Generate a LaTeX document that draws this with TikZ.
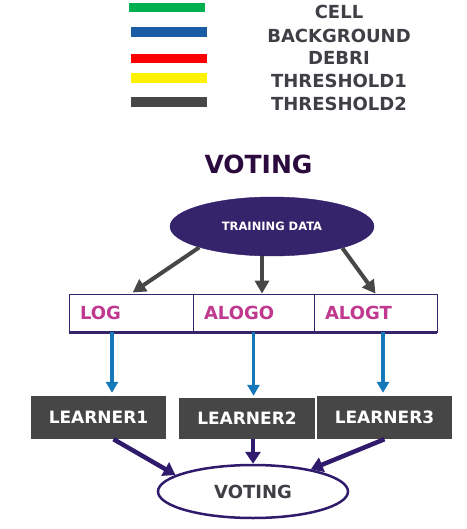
\documentclass[tikz,border=0pt]{standalone}
\usepackage{fontspec}
\setmainfont{DejaVu Sans}
\usetikzlibrary{arrows.meta, positioning, shapes.geometric}
\definecolor{txtgray}{HTML}{3F3F46}
\definecolor{titlepurp}{HTML}{2B0A3D}
\definecolor{datapurp}{HTML}{35236B}
\definecolor{votepurp}{HTML}{2F1A6B}
\definecolor{algmag}{HTML}{C0398F}
\definecolor{arrblue}{HTML}{1578B8}
\definecolor{arrgray}{HTML}{474747}
\definecolor{lrngray}{HTML}{464646}
\definecolor{leggreen}{HTML}{00B050}
\definecolor{legblue}{HTML}{1B5CA6}
\definecolor{legdark}{HTML}{474747}

\begin{document}
\begin{tikzpicture}[x=1pt, y=-1pt,
    legtext/.style={font=\bfseries\fontsize{18}{18}\selectfont, text=txtgray, inner sep=0pt},
    algcell/.style={draw=datapurp, line width=0.8pt, minimum height=38pt, inner xsep=11pt, align=left,
        font=\bfseries\fontsize{18}{18}\selectfont, text=algmag},
    learner/.style={fill=lrngray, text=white, font=\bfseries\fontsize{17}{17}\selectfont, minimum width=135pt},
    grayarr/.style={-{Triangle[length=13pt, width=14pt]}, arrgray, line width=4pt},
    bluearr/.style={-{Triangle[length=11pt, width=12pt]}, arrblue, line width=3.5pt},
    purparr/.style={-{Triangle[length=12pt, width=15pt]}, votepurp, line width=4.5pt}]
    \useasboundingbox (0,0) rectangle (466,529);
    % legend
    \fill[leggreen] (129,3) rectangle (205,12);
    \fill[legblue] (131,27) rectangle (207,37);
    \fill[red] (131,54) rectangle (207,63);
    \fill[yellow] (131,73) rectangle (207,83);
    \fill[legdark] (131,97) rectangle (207,107);
    \node[legtext] (cell) at (339,12) {CELL};
    \node[legtext] (bkg) at (339,35.5) {BACKGROUND};
    \node[legtext] (debri) at (339,58) {DEBRI};
    \node[legtext] (thr1) at (339,81) {THRESHOLD1};
    \node[legtext] (thr2) at (339,104) {THRESHOLD2};
    % voting diagram
    \node[font=\bfseries\fontsize{25}{25}\selectfont, text=titlepurp, inner sep=0pt] (title) at (258.5,164.5) {VOTING};
    \node[ellipse, fill=datapurp, draw=votepurp, minimum width=204pt, minimum height=59pt, inner sep=0pt,
        text=white, font=\bfseries\fontsize{11.5}{11.5}\selectfont] (train) at (272,226.5) {TRAINING DATA};
    \node[algcell, text width=102pt] (log) at (131,313) {LOG};
    \node[algcell, text width=99pt] (alogo) at (253.5,313) {ALOGO};
    \node[algcell, text width=101pt] (alogt) at (375.5,313) {ALOGT};
    \draw[datapurp, line width=3pt] (log.south west) -- (alogt.south east);
    \draw[grayarr, shorten >=2pt] (train.196) -- (log.north);
    \draw[grayarr] ([xshift=-10pt]train.south) -- ([xshift=-10pt]train.south |- alogo.north);
    \draw[grayarr] (train.343) -- (alogt.north);
    \node[learner, minimum height=43pt] (lrn1) at (98.5,417.5) {LEARNER1};
    \node[learner, minimum height=41pt, minimum width=136pt] (lrn2) at (247,418.5) {LEARNER2};
    \node[learner, minimum height=43pt] (lrn3) at (384.5,417.5) {LEARNER3};
    \draw[bluearr, shorten >=3pt] ([xshift=-19pt]log.south) -- ([xshift=-19pt]log.south |- lrn1.north);
    \draw[bluearr, shorten >=2pt] (alogo.south) -- (alogo.south |- lrn2.north);
    \draw[bluearr, shorten >=3pt] ([xshift=7.5pt]alogt.south) -- ([xshift=7.5pt]alogt.south |- lrn3.north);
    \node[ellipse, draw=votepurp, line width=2.5pt, minimum width=190pt, minimum height=53pt, inner sep=0pt,
        text=txtgray, font=\bfseries\fontsize{18}{18}\selectfont] (vote) at (253,491.5) {VOTING};
    \draw[purparr] ([xshift=15pt]lrn1.south) -- (vote.168);
    \draw[purparr] ([xshift=6pt]lrn2.south) -- (vote.north);
    \draw[purparr] (lrn3.south) -- (vote.21);
\end{tikzpicture}
\end{document}
